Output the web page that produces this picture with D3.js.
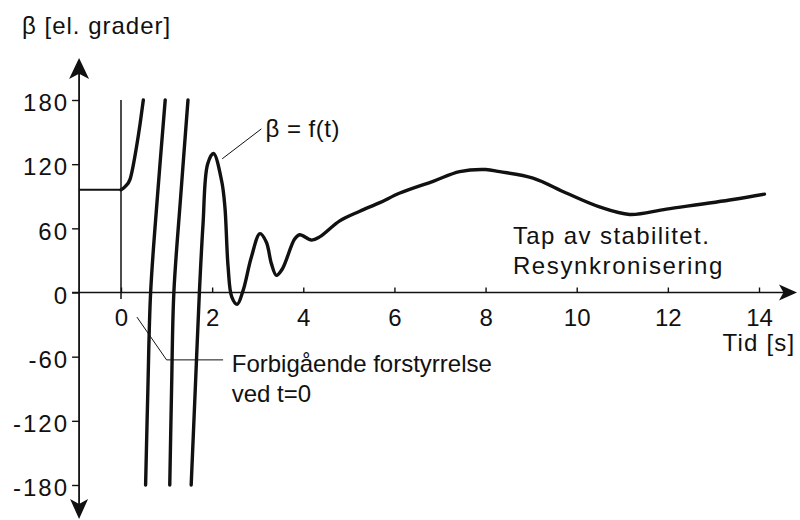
<!DOCTYPE html>
<html>

<head>
    <meta charset="utf-8">
    <style>
        body {
            margin: 0;
            background: white;
        }

        svg {
            display: block;
            font-family: 'Liberation Sans', Arial, sans-serif;
        }

        .axis text {
            font-size: 24px;
            fill: #111;
        }

        .axis line {
            stroke: #111;
            stroke-width: 1.4;
        }

        .label {
            font-size: 24px;
            fill: #111;
        }
    </style>
</head>

<body>
    <svg width="800" height="520"></svg>
</body>

<script src="https://d3js.org/d3.v7.min.js"></script>

<script>
    // tick values
    let tickT = [0, 2, 4, 6, 8, 10, 12, 14]
    let tickBeta = [-180, -120, -60, 0, 60, 120, 180]

    // beta before the disturbance (t < 0)
    let preDisturbance = [[-0.92, 96], [0, 96]]

    // beta = f(t), split where the angle wraps at +/-180
    let branch1 = [[0, 96], [0.09, 99], [0.2, 106], [0.34, 136], [0.42, 158], [0.49, 180]]
    let branch2 = [[0.54, -180], [0.59, -90], [0.65, 0], [0.8, 90], [0.97, 180]]
    let branch3 = [[1.07, -180], [1.11, -90], [1.16, 0], [1.31, 90], [1.47, 180]]
    let branch4 = [
        [1.54, -180], [1.63, -90], [1.72, 0], [1.8, 64], [1.9, 120], [2.03, 130],
        [2.21, 104], [2.28, 80], [2.35, 24], [2.43, -4], [2.55, -11], [2.68, 2],
        [2.86, 33], [3.05, 55], [3.19, 47], [3.3, 27], [3.41, 16], [3.54, 22],
        [3.81, 50], [3.92, 54], [4.18, 49], [4.36, 52], [4.8, 67], [5.24, 76],
        [5.68, 84], [6.12, 93], [6.85, 104], [7.43, 113], [8.0, 115], [8.31, 113],
        [9.04, 107], [9.77, 93], [10.5, 80], [11.16, 73], [11.97, 78], [13.43, 87],
        [14.12, 92]
    ]

    let svg = d3.select("svg")

    let x = d3.scaleLinear()
        .domain([0, 14])
        .range([121, 759])

    let y = d3.scaleLinear()
        .domain([-180, 180])
        .range([485, 100])

    let tMin = -0.92
    let axisX = x(tMin)
    let axisY = y(0)

    // x axis ticks + labels
    let xAxis = svg.append("g")
        .attr("class", "axis")
        .attr("transform", `translate(0,${axisY})`)
        .call(d3.axisBottom(x).tickValues(tickT).tickSize(-5).tickPadding(16))
    xAxis.select(".domain").remove()
    xAxis.selectAll("text").style("font-family", "inherit")

    // y axis ticks + labels (plain hyphen for negatives, like the original)
    let yAxis = svg.append("g")
        .attr("class", "axis")
        .attr("transform", `translate(${axisX},0)`)
        .call(d3.axisLeft(y).tickValues(tickBeta).tickSize(7).tickPadding(3)
            .tickFormat(d => String(d)))
    yAxis.select(".domain").remove()
    yAxis.selectAll("text")
        .attr("dy", "0.45em")
        .style("letter-spacing", "2px")
        .style("font-family", "inherit")

    // axis lines
    svg.append("line")
        .attr("x1", axisX).attr("x2", axisX)
        .attr("y1", 64).attr("y2", 512)
        .style("stroke", "#111").style("stroke-width", 1.8)

    svg.append("line")
        .attr("x1", axisX - 7).attr("x2", 790)
        .attr("y1", axisY).attr("y2", axisY)
        .style("stroke", "#111").style("stroke-width", 1.6)

    // arrow heads
    function arrowHead(tipX, tipY, dx, dy, len, half) {
        // dx,dy = unit direction of the arrow
        let bx = tipX - dx * len, by = tipY - dy * len
        let nx = -dy, ny = dx
        let notchX = tipX - dx * len * 0.75, notchY = tipY - dy * len * 0.75
        return `M${tipX},${tipY}L${bx + nx * half},${by + ny * half}L${notchX},${notchY}L${bx - nx * half},${by - ny * half}Z`
    }

    svg.append("path").attr("d", arrowHead(axisX, 58, 0, -1, 21, 10)).style("fill", "#111")
    svg.append("path").attr("d", arrowHead(axisX, 519, 0, 1, 20, 9)).style("fill", "#111")
    svg.append("path").attr("d", arrowHead(797, axisY, 1, 0, 18, 8)).style("fill", "#111")

    // vertical line at t = 0
    svg.append("line")
        .attr("x1", x(0)).attr("x2", x(0))
        .attr("y1", y(180)).attr("y2", y(-6))
        .style("stroke", "#111").style("stroke-width", 1.5)

    let line = d3.line()
        .x(d => x(d[0]))
        .y(d => y(d[1]))
        .curve(d3.curveCatmullRom.alpha(0.5))

    let smooth = d3.line()
        .x(d => x(d[0]))
        .y(d => y(d[1]))
        .curve(d3.curveMonotoneX)

    svg.append("path")
        .datum(preDisturbance)
        .attr("d", line)
        .style("fill", "none")
        .style("stroke", "#111")
        .style("stroke-width", 2)

    svg.selectAll(".branch")
        .data([branch1, branch2, branch3, branch4])
        .join("path")
        .attr("class", "branch")
        .attr("d", (d, i) => i == 0 ? smooth(d) : line(d))
        .style("fill", "none")
        .style("stroke", "#111")
        .style("stroke-width", 3.4)
        .style("stroke-linejoin", "round")
        .style("stroke-linecap", "round")

    // annotations
    let leaderBeta = [[2.22, 125], [3.08, 153]]
    let leaderDist = [[0.35, -23], [1.0, -63], [2.24, -63]]

    let thin = d3.line().x(d => x(d[0])).y(d => y(d[1]))

    svg.append("path").attr("d", thin(leaderBeta))
        .style("fill", "none").style("stroke", "#111").style("stroke-width", 1)
    svg.append("path").attr("d", thin(leaderDist))
        .style("fill", "none").style("stroke", "#111").style("stroke-width", 1)

    svg.append("text").attr("class", "label")
        .attr("x", x(3.17)).attr("y", y(145))
        .style("letter-spacing", "0.5px")
        .text("β = f(t)")

    svg.append("text").attr("class", "label")
        .attr("x", x(2.43)).attr("y", y(-74))
        .text("Forbigående forstyrrelse")
    svg.append("text").attr("class", "label")
        .attr("x", x(2.43)).attr("y", y(-102))
        .text("ved t=0")

    svg.append("text").attr("class", "label")
        .attr("x", x(8.6)).attr("y", y(45))
        .style("letter-spacing", "1.4px")
        .text("Tap av stabilitet.")
    svg.append("text").attr("class", "label")
        .attr("x", x(8.6)).attr("y", y(17))
        .style("letter-spacing", "1.6px")
        .text("Resynkronisering")

    svg.append("text").attr("class", "label")
        .attr("x", x(13.2)).attr("y", y(-55))
        .style("letter-spacing", "1.2px")
        .text("Tid [s]")

    svg.append("text").attr("class", "label")
        .attr("x", 22).attr("y", 34)
        .style("letter-spacing", "1px")
        .text("β [el. grader]")
</script>

</html>
